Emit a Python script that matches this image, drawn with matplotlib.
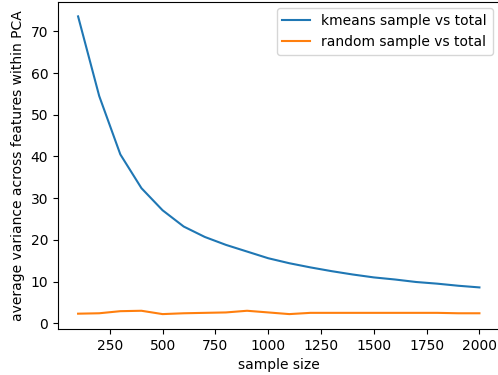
import matplotlib
matplotlib.use("Agg")
import matplotlib.pyplot as plt

sample_sizes = list(range(100, 2001, 100))
kmeans_var = [73.6, 54.5, 40.5, 32.4, 27.1, 23.2, 20.7, 18.8, 17.2, 15.6,
              14.4, 13.4, 12.5, 11.7, 11.0, 10.5, 9.9, 9.5, 9.0, 8.6]
random_var = [2.3, 2.4, 2.9, 3.0, 2.2, 2.4, 2.5, 2.6, 3.0, 2.6,
              2.2, 2.5, 2.5, 2.5, 2.5, 2.5, 2.5, 2.5, 2.4, 2.4]

fig, ax = plt.subplots(figsize=(4.98, 3.75), dpi=100)
fig.subplots_adjust(left=0.1165, right=1.003, bottom=0.1227, top=0.996)

ax.plot(sample_sizes, kmeans_var, label="kmeans sample vs total")
ax.plot(sample_sizes, random_var, label="random sample vs total")

ax.set_xlabel("sample size")
ax.set_ylabel("average variance across features within PCA")
ax.legend(loc="upper right")

fig.savefig("out.png", dpi=100)
